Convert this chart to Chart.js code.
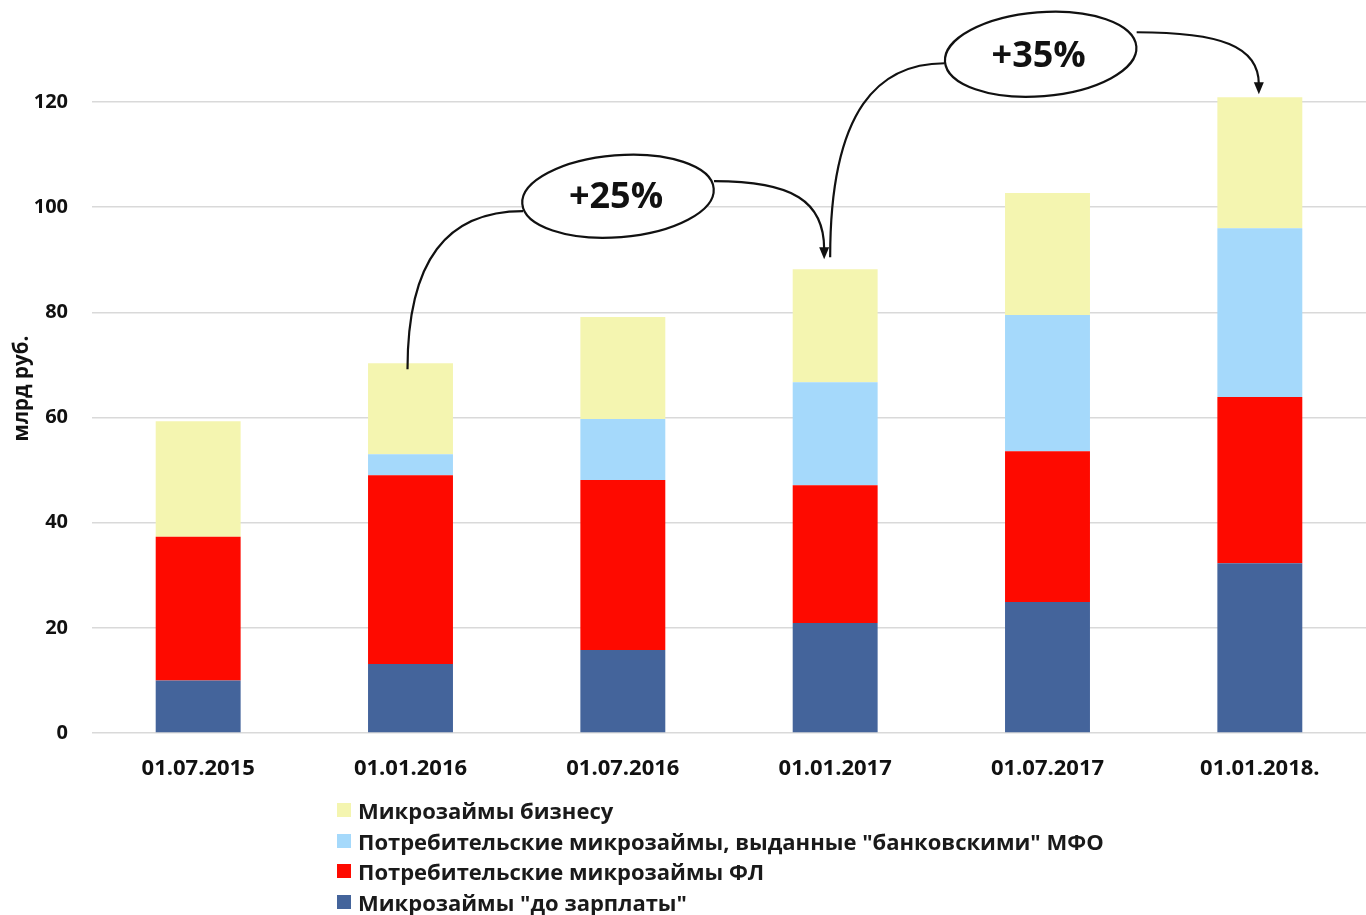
<!DOCTYPE html>
<html>
<head>
<meta charset="utf-8">
<script src="https://cdn.jsdelivr.net/npm/chart.js@4.4.1/dist/chart.umd.min.js"></script>
<style>
  html, body { margin: 0; padding: 0; background: #fff; }
  #wrap { position: relative; width: 1366px; height: 915px; }
  #legend { position: absolute; left: 337px; top: 795px; font-family: "Open Sans", Roboto, sans-serif; font-weight: bold; font-size: 22px; color: #1a1a1a; }
  #legend .item { height: 30.5px; line-height: 30.5px; white-space: nowrap; display: flex; align-items: center; }
  #legend .sw { width: 14px; height: 14px; margin-right: 7px; display: inline-block; }
</style>
</head>
<body>
<div id="wrap">
  <canvas id="c" width="1366" height="915"></canvas>
  <div id="legend"></div>
</div>
<script>
const categories = ["01.07.2015", "01.01.2016", "01.07.2016", "01.01.2017", "01.07.2017", "01.01.2018."];
const payday = [10, 13.1, 15.8, 20.9, 24.9, 32.3];
const consumerFL = [27.3, 35.9, 32.3, 26.2, 28.7, 31.6];
const bankMFO = [0, 4.0, 11.6, 19.6, 25.9, 32.1];
const business = [22.0, 17.3, 19.4, 21.5, 23.2, 24.9];
const yTicks = [0, 20, 40, 60, 80, 100, 120];
const seriesNames = [
  'Микрозаймы "до зарплаты"',
  'Потребительские микрозаймы ФЛ',
  'Потребительские микрозаймы, выданные "банковскими" МФО',
  'Микрозаймы бизнесу'
];
const seriesColors = ["#44649b", "#fe0a00", "#a5d9fb", "#f4f5b0"];
const growthLabels = ["+25%", "+35%"];
const yTitle = "млрд руб.";

const FONT = '"Open Sans", Roboto, sans-serif';

const datasets = [payday, consumerFL, bankMFO, business].map((d, i) => ({
  label: seriesNames[i],
  data: d,
  backgroundColor: seriesColors[i],
  borderWidth: 0,
  clip: false,
  barPercentage: 0.4,
  categoryPercentage: 1.0
}));

function total(i) { return datasets.reduce((s, ds) => s + ds.data[i], 0); }

const annotPlugin = {
  id: 'growthAnnot',
  afterDraw(chart) {
    const ctx = chart.ctx;
    const xs = chart.scales.x, ys = chart.scales.y;
    const X = i => xs.getPixelForValue(i);
    const Y = v => ys.getPixelForValue(v);
    ctx.save();

    // y axis title
    ctx.save();
    ctx.translate(22, Y(65.5));
    ctx.rotate(-Math.PI / 2);
    ctx.font = 'bold 20.5px ' + FONT;
    ctx.fillStyle = '#111';
    ctx.textAlign = 'center';
    ctx.textBaseline = 'middle';
    ctx.fillText(yTitle, 0, 0);
    ctx.restore();

    ctx.strokeStyle = '#111';
    ctx.fillStyle = '#111';
    ctx.lineWidth = 2.2;

    function arrowHead(x, y) {
      ctx.beginPath();
      ctx.moveTo(x, y);
      ctx.lineTo(x - 5, y - 12);
      ctx.lineTo(x + 5, y - 12);
      ctx.closePath();
      ctx.fill();
    }
    function ellipse(cx, cy, rx, ry, text) {
      ctx.beginPath();
      ctx.ellipse(cx, cy, rx, ry, -0.08, 0, Math.PI * 2);
      ctx.fillStyle = '#fff';
      ctx.fill();
      ctx.stroke();
      ctx.fillStyle = '#111';
      ctx.font = 'bold 36px ' + FONT;
      ctx.textAlign = 'center';
      ctx.textBaseline = 'middle';
      ctx.fillText(text, cx - 2, cy + 2);
    }

    // First annotation: bar 1 -> bar 3
    {
      const sx = X(1) - 3, sy = Y(total(1)) + 6;
      const ex = X(3) - 11, ey = Y(total(3)) - 10;
      const cx = (X(2) + X(3)) / 2 - 111, cy = Y(total(3)) - 73;
      ctx.beginPath();
      ctx.moveTo(sx, sy);
      ctx.bezierCurveTo(sx, sy - 110, sx + 40, cy + 15, cx - 95, cy + 15);
      ctx.stroke();
      ctx.beginPath();
      ctx.moveTo(cx + 96, cy - 15);
      ctx.bezierCurveTo(cx + 175, cy - 15, ex, cy + 5, ex, ey - 10);
      ctx.stroke();
      arrowHead(ex, ey);
      ellipse(cx, cy, 96, 41, growthLabels[0]);
    }
    // Second annotation: bar 3 -> bar 5
    {
      const sx = X(3) - 5, sy = Y(total(3)) - 12;
      const ex = X(5) - 1, ey = Y(total(5)) - 3;
      const cx = (X(4) + X(5)) / 2 - 113, cy = Y(total(5)) - 43;
      ctx.beginPath();
      ctx.moveTo(sx, sy);
      ctx.bezierCurveTo(sx, sy - 150, sx + 50, cy + 9, cx - 96, cy + 9);
      ctx.stroke();
      ctx.beginPath();
      ctx.moveTo(cx + 96, cy - 22);
      ctx.bezierCurveTo(cx + 180, cy - 22, ex, cy - 8, ex, ey - 10);
      ctx.stroke();
      arrowHead(ex, ey);
      ellipse(cx, cy, 96, 42, growthLabels[1]);
    }
    ctx.restore();
  }
};

const chart = new Chart(document.getElementById('c'), {
  type: 'bar',
  data: { labels: categories, datasets },
  options: {
    responsive: false,
    animation: false,
    layout: { padding: { top: 102, left: 0, right: 0, bottom: 0 } },
    plugins: { legend: { display: false }, tooltip: { enabled: false } },
    scales: {
      x: {
        stacked: true,
        grid: { display: false },
        border: { display: false },
        ticks: { color: '#111', font: { family: FONT, weight: 'bold', size: 22 }, padding: 15, maxRotation: 0 },
        afterFit(s) { s.height = 182; }
      },
      y: {
        stacked: true,
        min: 0,
        max: 120,
        afterBuildTicks(s) { s.ticks = yTicks.map(v => ({ value: v })); },
        grid: { color: '#d9d9d9', lineWidth: 1.5, drawTicks: false },
        border: { display: false },
        ticks: { color: '#111', font: { family: FONT, weight: 'bold', size: 20 }, padding: 24 },
        afterFit(s) { s.width = 92; }
      }
    }
  },
  plugins: [annotPlugin]
});

const leg = document.getElementById('legend');
for (let i = datasets.length - 1; i >= 0; i--) {
  const it = document.createElement('div');
  it.className = 'item';
  const sw = document.createElement('span');
  sw.className = 'sw';
  sw.style.background = datasets[i].backgroundColor;
  const tx = document.createElement('span');
  tx.textContent = datasets[i].label;
  it.appendChild(sw); it.appendChild(tx);
  leg.appendChild(it);
}
</script>
</body>
</html>
